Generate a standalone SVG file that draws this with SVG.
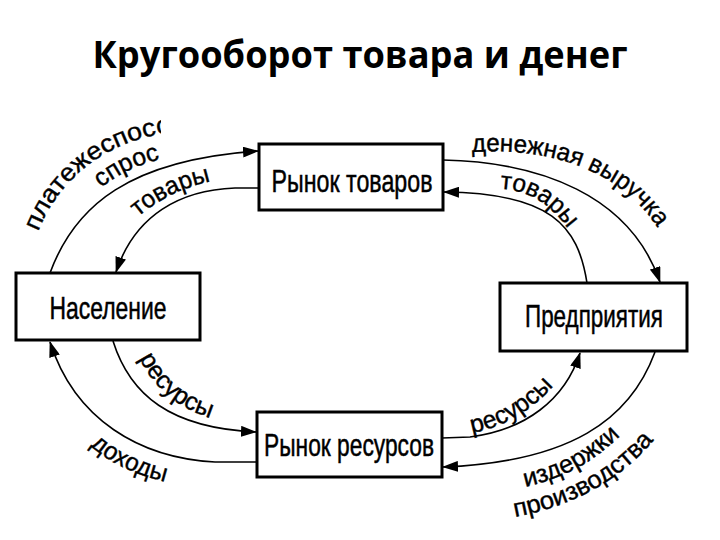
<svg xmlns="http://www.w3.org/2000/svg" xmlns:xlink="http://www.w3.org/1999/xlink" width="720" height="540" viewBox="0 0 720 540">
  <style>
    .box { fill: #fff; stroke: #000; stroke-width: 3; }
    .node-text { font-family: "Liberation Sans", Arial, sans-serif; font-size: 32px; fill: #000; stroke: #000; stroke-width: 0.5; }
    .lbl { font-family: "Liberation Sans", Arial, sans-serif; font-size: 25px; fill: #000; stroke: #000; stroke-width: 0.4; }
    .conn { fill: none; stroke: #000; stroke-width: 1.6; marker-end: url(#arr); }
    .title { font-family: "Open Sans", "Liberation Sans", sans-serif; font-weight: bold; font-size: 37px; fill: #000; }
  </style>
  <defs>
    <marker id="arr" viewBox="0 0 16 11" refX="15" refY="5.5" markerWidth="16" markerHeight="11" markerUnits="userSpaceOnUse" orient="auto">
      <path d="M0,0 L16,5.5 L0,11 Z" fill="#000"/>
    </marker>
    <clipPath id="clipL"><rect x="0" y="0" width="161" height="540"/></clipPath>
    <path id="tp-plat" d="M38,232 C 62,172 115,138 175,132 L 300,124"/>
    <path id="tp-spros" d="M101,188 C 121,172 141,163 175,156"/>
    <path id="tp-tov1" d="M138,217 C 162,197 187,185 224,179"/>
    <path id="tp-den" d="M472,152 C 560,146 640,178 670,252"/>
    <path id="tp-tov2" d="M500,189 C 530,190 556,206 576,242"/>
    <path id="tp-res1" d="M139,358 C 158,395 185,413 226,422"/>
    <path id="tp-doh" d="M90,446 C 112,464 137,476 174,484"/>
    <path id="tp-res2" d="M472,433 C 510,426 540,405 563,374"/>
    <path id="tp-izd" d="M525,487 C 570,477 600,457 626,430"/>
    <path id="tp-proiz" d="M515,517 C 570,507 622,481 657,436"/>
  </defs>

  <text class="title" x="360" y="68" text-anchor="middle" textLength="535" lengthAdjust="spacingAndGlyphs">Кругооборот товара и денег</text>

  <g id="connectors">
    <path class="conn" d="M50,273 C 75,205 130,160 258,151"/>
    <path class="conn" d="M259,188 L 235,188 C 180,190 135,215 116,272"/>
    <path class="conn" d="M443,160 C 540,162 630,195 660,282"/>
    <path class="conn" d="M587,283 C 578,225 550,193 444,192"/>
    <path class="conn" d="M113,341 C 130,395 170,428 256,432"/>
    <path class="conn" d="M257,462 L 215,462 C 140,458 75,420 50,342"/>
    <path class="conn" d="M442,438 L 470,437 C 525,430 565,400 580,353"/>
    <path class="conn" d="M655,352 C 630,420 570,462 443,467"/>
  </g>

  <g id="labels">
    <g clip-path="url(#clipL)">
      <text class="lbl"><textPath xlink:href="#tp-plat" textLength="240" lengthAdjust="spacingAndGlyphs">платежеспособный</textPath></text>
    </g>
    <text class="lbl"><textPath xlink:href="#tp-spros" textLength="66" lengthAdjust="spacingAndGlyphs">спрос</textPath></text>
    <text class="lbl"><textPath xlink:href="#tp-tov1" textLength="82" lengthAdjust="spacingAndGlyphs">товары</textPath></text>
    <text class="lbl"><textPath xlink:href="#tp-den" textLength="210" lengthAdjust="spacingAndGlyphs">денежная выручка</textPath></text>
    <text class="lbl"><textPath xlink:href="#tp-tov2" textLength="82" lengthAdjust="spacingAndGlyphs">товары</textPath></text>
    <text class="lbl"><textPath xlink:href="#tp-res1" textLength="96" lengthAdjust="spacingAndGlyphs">ресурсы</textPath></text>
    <text class="lbl"><textPath xlink:href="#tp-doh" textLength="84" lengthAdjust="spacingAndGlyphs">доходы</textPath></text>
    <text class="lbl"><textPath xlink:href="#tp-res2" textLength="96" lengthAdjust="spacingAndGlyphs">ресурсы</textPath></text>
    <text class="lbl"><textPath xlink:href="#tp-izd" textLength="110" lengthAdjust="spacingAndGlyphs">издержки</textPath></text>
    <text class="lbl"><textPath xlink:href="#tp-proiz" textLength="162" lengthAdjust="spacingAndGlyphs">производства</textPath></text>
  </g>

  <g id="node-market-goods">
    <rect class="box" x="259" y="144" width="184" height="66"/>
    <text class="node-text" x="352" y="192" text-anchor="middle" textLength="161" lengthAdjust="spacingAndGlyphs">Рынок товаров</text>
  </g>
  <g id="node-population">
    <rect class="box" x="16" y="273" width="184" height="67"/>
    <text class="node-text" x="108" y="319" text-anchor="middle" textLength="117" lengthAdjust="spacingAndGlyphs">Население</text>
  </g>
  <g id="node-enterprises">
    <rect class="box" x="500" y="283" width="187" height="68"/>
    <text class="node-text" x="594" y="327" text-anchor="middle" textLength="138" lengthAdjust="spacingAndGlyphs">Предприятия</text>
  </g>
  <g id="node-market-resources">
    <rect class="box" x="257" y="412" width="185" height="65"/>
    <text class="node-text" x="349" y="456" text-anchor="middle" textLength="170" lengthAdjust="spacingAndGlyphs">Рынок ресурсов</text>
  </g>
</svg>
